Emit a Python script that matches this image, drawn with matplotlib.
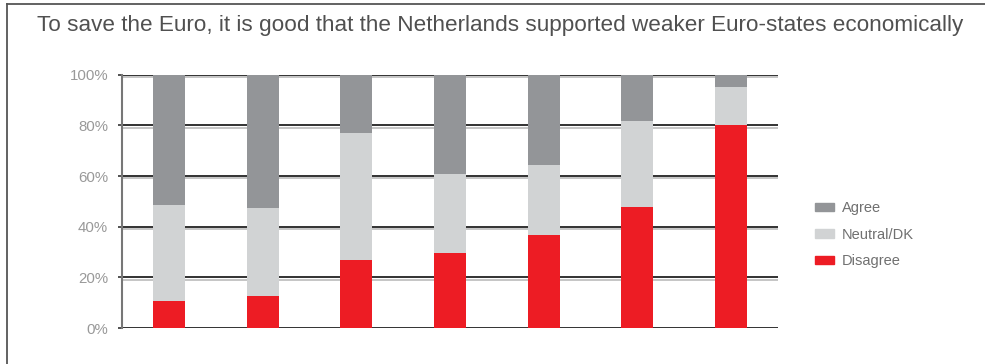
import matplotlib
matplotlib.use("Agg")
import matplotlib.pyplot as plt
import matplotlib.patheffects as pe
from matplotlib.lines import Line2D
from matplotlib.patches import Patch
import numpy as np

title = "To save the Euro, it is good that the Netherlands supported weaker Euro-states economically"
categories = ["1", "2", "3", "4", "5", "6", "7"]
disagree = [10.7, 12.6, 26.9, 29.6, 36.8, 47.8, 80.2]
neutral = [37.9, 34.8, 50.2, 31.1, 27.5, 33.9, 15.1]
agree = [51.4, 52.6, 22.9, 39.3, 35.7, 18.3, 4.7]
yticks = [0, 20, 40, 60, 80, 100]
ytick_labels = ["0%", "20%", "40%", "60%", "80%", "100%"]
series_names = ["Agree", "Neutral/DK", "Disagree"]

c_agree = "#939598"
c_neutral = "#d1d3d4"
c_disagree = "#ed1c24"

plt.rcParams['font.family'] = ['Liberation Sans', 'DejaVu Sans']

fig = plt.figure(figsize=(9.85, 3.64), dpi=100)
ax = fig.add_axes([122/985, 1 - 328/364, (778-122)/985, (328-74.7)/364])

x = np.arange(len(categories))
w = 0.34
d = np.array(disagree)
n = np.array(neutral)
a = np.array(agree)

# gridlines with light shadow
for yt in yticks:
    ax.axhline(yt, color="#222222", lw=1.3, zorder=1,
               path_effects=[pe.SimpleLineShadow(offset=(0, -1.6), shadow_color="#c0c0c0", alpha=1), pe.Normal()])

ax.bar(x, d, w, color=c_disagree, zorder=3, linewidth=0)
ax.bar(x, n, w, bottom=d, color=c_neutral, zorder=3, linewidth=0)
ax.bar(x, a, w, bottom=d + n, color=c_agree, zorder=3, linewidth=0)

ax.set_xlim(-0.5, len(categories) - 0.5)
ax.set_ylim(0, 100)
ax.set_yticks(yticks)
ax.set_yticklabels(ytick_labels)
ax.set_xticks([])
for s in ["top", "right", "bottom"]:
    ax.spines[s].set_visible(False)
ax.spines["left"].set_color("#777777")
ax.spines["left"].set_linewidth(1.5)
ax.tick_params(axis="y", length=3, width=1.2, color="#333333", pad=7,
               labelsize=10.8, labelcolor="#999999")

handles = [Patch(color=c_agree), Patch(color=c_neutral), Patch(color=c_disagree)]
leg = fig.legend(handles, series_names, loc="upper left",
                 bbox_to_anchor=(808/985, 1 - 194/364), frameon=False,
                 fontsize=10.5, handlelength=1.3, handleheight=0.5,
                 handletextpad=0.5, labelspacing=0.85, borderpad=0)
for t in leg.get_texts():
    t.set_color("#707070")

fig.text(37/985, 1 - 26/364, title, fontsize=16.2, color="#505050",
         va="center", ha="left")

# outer frame: top and left lines
fig.add_artist(Line2D([7/985, 1], [1 - 3.5/364, 1 - 3.5/364], transform=fig.transFigure,
                      color="#555555", lw=1.3))
fig.add_artist(Line2D([7/985, 7/985], [0, 1 - 3.5/364], transform=fig.transFigure,
                      color="#555555", lw=1.3))

fig.savefig("out.png", dpi=100, facecolor="white")
